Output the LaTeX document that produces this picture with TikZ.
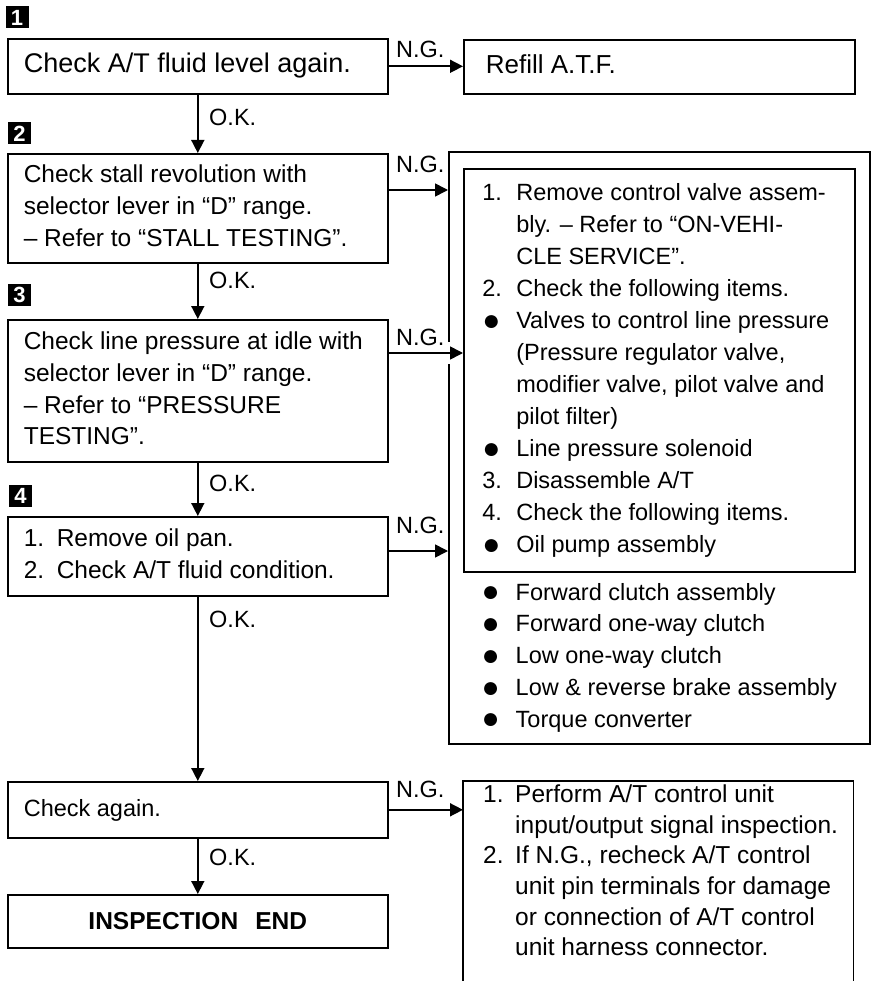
\documentclass[tikz,border=0pt]{standalone}
\usepackage{fontspec}
\setmainfont{Liberation Sans}
\usetikzlibrary{arrows.meta}
\newcommand\txtsize{\fontsize{23.5}{31.8}\selectfont}
\newcommand\boxsize{\fontsize{24.5}{31.8}\selectfont}
\newcommand\blt{\raisebox{-1.5pt}{\fontsize{30}{30}\selectfont●}}

\begin{document}
\begin{tikzpicture}[x=1pt, y=-1pt, font=\txtsize,
    box/.style={draw, line width=1.6pt, anchor=north west, inner ysep=0pt, inner xsep=16pt, minimum width=380pt, font=\boxsize},
    plain/.style={anchor=north west, inner sep=0pt},
    arr/.style={line width=1.6pt, -{Triangle[length=13pt,width=13pt]}},
    lbl/.style={anchor=base west, inner sep=0pt},
    stepno/.style={fill=black, text=white, font=\bfseries\fontsize{22}{22}\selectfont, minimum width=23pt, minimum height=22pt, inner sep=0pt},
  ]
  \useasboundingbox (0,0) rectangle (872,981);
  % Etape 1
  \node[stepno] (s1) at (17,17.5) {1};
  \node[box, minimum height=55pt, font=\fontsize{27}{31.8}\selectfont] (b1) at (7,38)
        {\begin{tabular}{@{}p{348pt}@{}}Check A/T fluid level again.\end{tabular}};
  \node[box, inner xsep=22pt, minimum width=391pt, minimum height=54pt, font=\fontsize{26}{31.8}\selectfont] (refill) at (463,39)
        {\begin{tabular}{@{}p{347pt}@{}}Refill A.T.F.\end{tabular}};
  \draw[arr] (b1.east) -- (b1.east -| refill.west);
  \node[lbl] (ng1) at (396,58) {N.G.};
  % Etape 2
  \node[stepno] (s2) at (19.5,133.5) {2};
  \node[box, minimum height=109pt] (b2) at (7,153)
        {\begin{tabular}{@{}p{348pt}@{}}
         Check stall revolution with\\
         selector lever in “D” range.\\
         -- Refer to “STALL TESTING”.
         \end{tabular}};
  \draw[arr] (b1.south) -- (b2.north);
  \node[lbl] (ok1) at (209,126) {O.K.};
  % Etape 3
  \node[stepno] (s3) at (19.5,294.5) {3};
  \node[box, minimum height=142pt] (b3) at (7,319)
        {\begin{tabular}{@{}p{348pt}@{}}
         Check line pressure at idle with\\
         selector lever in “D” range.\\
         -- Refer to “PRESSURE\\
         TESTING”.
         \end{tabular}};
  \draw[arr] (b2.south) -- (b3.north);
  \node[lbl] (ok2) at (209,288) {O.K.};
  % Etape 4
  \node[stepno] (s4) at (20.5,495.5) {4};
  \node[box, minimum height=79pt] (b4) at (7,516)
        {\begin{tabular}{@{}p{33pt}@{}p{315pt}@{}}
         1. & Remove oil pan.\\
         2. & Check A/T fluid condition.
         \end{tabular}};
  \draw[arr] (b3.south) -- (b4.north);
  \node[lbl] (ok3) at (209,491) {O.K.};
  % Reparation valve / boite
  \node[box, minimum width=421pt, minimum height=592pt] (outer) at (448,151) {};
  \coordinate (y2) at (0,190);
  \coordinate (y3) at (0,353);
  \coordinate (y4) at (0,551);
  \fill[white] (outer.west |- y3) ++(-4,-11) rectangle ++(8,22);
  \node[box, inner xsep=18.5pt, inner ysep=9.6pt, minimum width=391pt,
        font=\fontsize{23.5}{32}\selectfont] (cv) at (463,168)
        {\begin{tabular}{@{}p{34pt}@{}p{320pt}@{}}
         1. & Remove control valve assem-\\
            & bly. -- Refer to “ON-VEHI-\\
            & CLE SERVICE”.\\
         2. & Check the following items.\\
         \blt & Valves to control line pressure\\
            & (Pressure regulator valve,\\
            & modifier valve, pilot valve and\\
            & pilot filter)\\
         \blt & Line pressure solenoid\\
         3. & Disassemble A/T\\
         4. & Check the following items.\\
         \blt & Oil pump assembly
         \end{tabular}};
  \node[plain] (parts) at (481.5,577.7)
        {\begin{tabular}{@{}p{34pt}@{}p{340pt}@{}}
         \blt & Forward clutch assembly\\
         \blt & Forward one-way clutch\\
         \blt & Low one-way clutch\\
         \blt & Low \& reverse brake assembly\\
         \blt & Torque converter
         \end{tabular}};
  \draw[arr] (b2.east |- y2) -- (outer.west |- y2);
  \node[lbl] (ng2) at (396,173) {N.G.};
  \draw[arr] (b3.east |- y3) -- (cv.west |- y3);
  \node[lbl] (ng3) at (396,345) {N.G.};
  \draw[arr] (b4.east |- y4) -- (outer.west |- y4);
  \node[lbl] (ng4) at (396,533) {N.G.};
  % Controle final
  \node[box, minimum height=56pt, font=\txtsize] (chk) at (7,781)
        {\begin{tabular}{@{}p{348pt}@{}}Check again.\end{tabular}};
  \draw[arr] (b4.south) -- (chk.north);
  \node[lbl] (ok4) at (209,627) {O.K.};
  \node[box, minimum height=53pt] (fin) at (7,894) {\bfseries INSPECTION\hspace{0.7em}END};
  \draw[arr] (chk.south) -- (fin.north);
  \node[lbl] (ok5) at (209,865) {O.K.};
  % Unite de commande
  \coordinate (bot) at (0,981);
  \node[plain, inner xsep=10pt, font=\fontsize{24.5}{30.6}\selectfont] (tcu) at (463,781)
        {\begin{tabular}{@{\hspace{10pt}}p{32pt}@{}p{328pt}@{}}
         1. & Perform A/T control unit\\
            & input/output signal inspection.\\
         2. & If N.G., recheck A/T control\\
            & unit pin terminals for damage\\
            & or connection of A/T control\\
            & unit harness connector.
         \end{tabular}};
  \draw[line width=1.6pt] (tcu.north west |- bot) -- (tcu.north west)
        -- (tcu.north east) -- (tcu.north east |- bot);
  \draw[arr] (chk.east) -- (chk.east -| tcu.west);
  \node[lbl] (ng5) at (396,797) {N.G.};
\end{tikzpicture}
\end{document}
